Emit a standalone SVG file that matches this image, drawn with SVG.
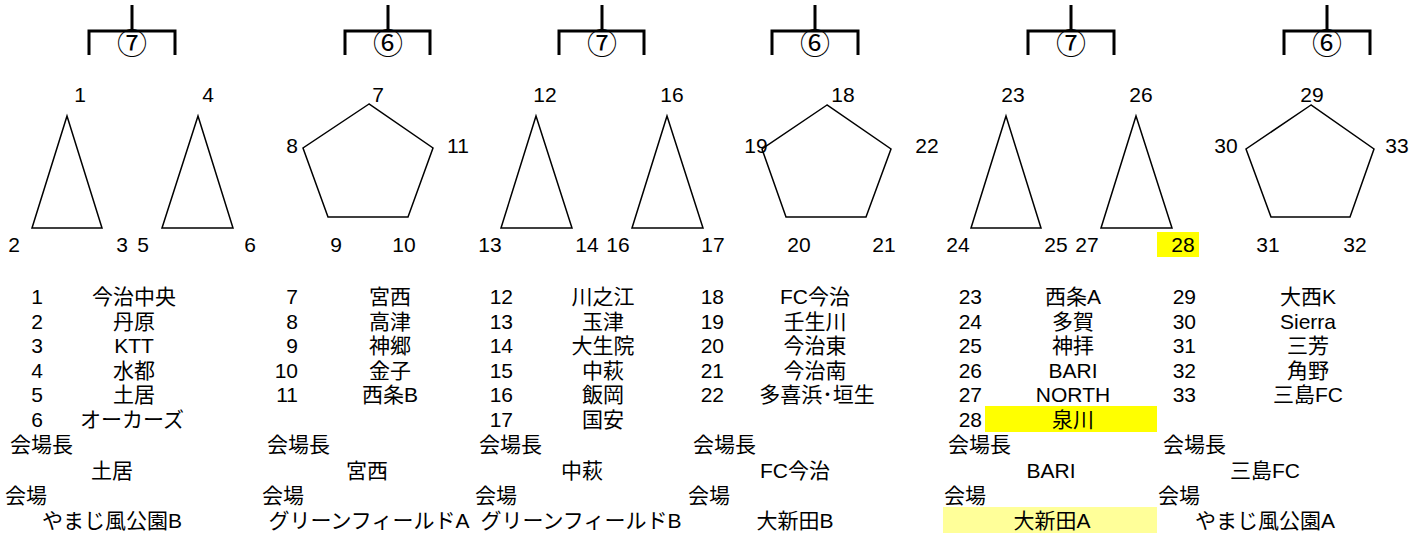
<svg xmlns="http://www.w3.org/2000/svg" width="1409" height="534" viewBox="0 0 1409 534">
<style>
  text { font-family: "Liberation Sans", "Noto Sans CJK JP", sans-serif; font-size: 21px; fill: #000; }
  .m { text-anchor: middle; }
  .e { text-anchor: end; }
  .c { font-family: "Noto Sans CJK JP", sans-serif; font-size: 30px; text-anchor: middle; }
  .shape { fill: #fff; stroke: #000; stroke-width: 1.5; stroke-linejoin: miter; }
  .br { fill: none; stroke: #000; stroke-width: 3; }
</style>
<rect width="1409" height="534" fill="#fff"/>

<!-- highlight backgrounds -->
<rect x="1157" y="232" width="42" height="25" fill="#FFFF00"/>
<rect x="985" y="406" width="172" height="26" fill="#FFFF00"/>
<rect x="943" y="507" width="214" height="26" fill="#FFFF99"/>

<g id="connectors">
  <g id="bracket1"><path class="br" d="M132 5V31M89 55V31H175V55"/><text class="c" x="132" y="54">⑦</text></g>
  <g id="bracket2"><path class="br" d="M388 5V31M345 55V31H430V55"/><text class="c" x="388" y="54">⑥</text></g>
  <g id="bracket3"><path class="br" d="M602 5V31M559 55V31H644V55"/><text class="c" x="602" y="54">⑦</text></g>
  <g id="bracket4"><path class="br" d="M815 5V31M772 55V31H858V55"/><text class="c" x="815" y="54">⑥</text></g>
  <g id="bracket5"><path class="br" d="M1071 5V31M1028 55V31H1114V55"/><text class="c" x="1071" y="54">⑦</text></g>
  <g id="bracket6"><path class="br" d="M1327 5V31M1284 55V31H1370V55"/><text class="c" x="1327" y="54">⑥</text></g>
</g>

<g id="tri1">
  <polygon class="shape" points="67,116 32,228 102,228"/>
  <text class="m" x="80" y="102">1</text>
  <text class="m" x="14" y="252">2</text>
  <text class="m" x="122" y="252">3</text>
</g>
<g id="tri2">
  <polygon class="shape" points="198,116 162,228 233,228"/>
  <text class="m" x="208" y="102">4</text>
  <text class="m" x="143" y="252">5</text>
  <text class="m" x="250" y="252">6</text>
</g>
<g id="pent1">
  <polygon class="shape" points="369,104 303,148 328,217 408,217 433,148"/>
  <text class="m" x="378" y="102">7</text>
  <text class="m" x="292" y="153">8</text>
  <text class="m" x="458" y="153">11</text>
  <text class="m" x="336" y="252">9</text>
  <text class="m" x="404" y="252">10</text>
</g>
<g id="tri3">
  <polygon class="shape" points="536,116 501,228 572,228"/>
  <text class="m" x="545" y="102">12</text>
  <text class="m" x="490" y="252">13</text>
  <text class="m" x="587" y="252">14</text>
</g>
<g id="tri4">
  <polygon class="shape" points="667,116 632,228 703,228"/>
  <text class="m" x="672" y="102">16</text>
  <text class="m" x="618" y="252">16</text>
  <text class="m" x="713" y="252">17</text>
</g>
<g id="pent2">
  <polygon class="shape" points="827,105 762,149 786,217 866,217 891,149"/>
  <text class="m" x="843" y="102">18</text>
  <text class="m" x="756" y="153">19</text>
  <text class="m" x="927" y="153">22</text>
  <text class="m" x="799" y="252">20</text>
  <text class="m" x="884" y="252">21</text>
</g>
<g id="tri5">
  <polygon class="shape" points="1006,116 971,228 1041,228"/>
  <text class="m" x="1013" y="102">23</text>
  <text class="m" x="958" y="252">24</text>
  <text class="m" x="1056" y="252">25</text>
</g>
<g id="tri6">
  <polygon class="shape" points="1136,116 1101,228 1172,228"/>
  <text class="m" x="1141" y="102">26</text>
  <text class="m" x="1087" y="252">27</text>
  <text class="m" x="1183" y="252">28</text>
</g>
<g id="pent3">
  <polygon class="shape" points="1311,105 1246,149 1271,217 1350,217 1374,149"/>
  <text class="m" x="1312" y="102">29</text>
  <text class="m" x="1226" y="153">30</text>
  <text class="m" x="1397" y="153">33</text>
  <text class="m" x="1268" y="252">31</text>
  <text class="m" x="1355" y="252">32</text>
</g>

<g id="list1">
  <text class="e" x="43" y="303.5">1</text><text class="m" x="134" y="303.5">今治中央</text>
  <text class="e" x="43" y="328.5">2</text><text class="m" x="134" y="328.5">丹原</text>
  <text class="e" x="43" y="352.5">3</text><text class="m" x="134" y="352.5">KTT</text>
  <text class="e" x="43" y="377.5">4</text><text class="m" x="134" y="377.5">水都</text>
  <text class="e" x="43" y="401.5">5</text><text class="m" x="134" y="401.5">土居</text>
  <text class="e" x="43" y="426.5">6</text><text class="m" x="132" y="426.5">オーカーズ</text>
  <text x="10" y="451.5">会場長</text>
  <text class="m" x="112" y="477.5">土居</text>
  <text x="5" y="502.5">会場</text>
  <text class="m" x="112" y="527.5">やまじ風公園B</text>
</g>
<g id="list2">
  <text class="e" x="298" y="303.5">7</text><text class="m" x="390" y="303.5">宮西</text>
  <text class="e" x="298" y="328.5">8</text><text class="m" x="390" y="328.5">高津</text>
  <text class="e" x="298" y="352.5">9</text><text class="m" x="390" y="352.5">神郷</text>
  <text class="e" x="298" y="377.5">10</text><text class="m" x="390" y="377.5">金子</text>
  <text class="e" x="298" y="401.5">11</text><text class="m" x="390" y="401.5">西条B</text>
  <text x="267" y="451.5">会場長</text>
  <text class="m" x="367" y="477.5">宮西</text>
  <text x="262" y="502.5">会場</text>
  <text class="m" x="369" y="527.5">グリーンフィールドA</text>
</g>
<g id="list3">
  <text class="e" x="513" y="303.5">12</text><text class="m" x="603" y="303.5">川之江</text>
  <text class="e" x="513" y="328.5">13</text><text class="m" x="603" y="328.5">玉津</text>
  <text class="e" x="513" y="352.5">14</text><text class="m" x="603" y="352.5">大生院</text>
  <text class="e" x="513" y="377.5">15</text><text class="m" x="603" y="377.5">中萩</text>
  <text class="e" x="513" y="401.5">16</text><text class="m" x="603" y="401.5">飯岡</text>
  <text class="e" x="513" y="426.5">17</text><text class="m" x="603" y="426.5">国安</text>
  <text x="479" y="451.5">会場長</text>
  <text class="m" x="582" y="477.5">中萩</text>
  <text x="475" y="502.5">会場</text>
  <text class="m" x="581" y="527.5">グリーンフィールドB</text>
</g>
<g id="list4">
  <text class="e" x="724" y="303.5">18</text><text class="m" x="815" y="303.5">FC今治</text>
  <text class="e" x="724" y="328.5">19</text><text class="m" x="815" y="328.5">壬生川</text>
  <text class="e" x="724" y="352.5">20</text><text class="m" x="815" y="352.5">今治東</text>
  <text class="e" x="724" y="377.5">21</text><text class="m" x="815" y="377.5">今治南</text>
  <text class="e" x="724" y="401.5">22</text><text class="m" x="817" y="401.5">多喜浜･垣生</text>
  <text x="693" y="451.5">会場長</text>
  <text class="m" x="795" y="477.5">FC今治</text>
  <text x="688" y="502.5">会場</text>
  <text class="m" x="795" y="527.5">大新田B</text>
</g>
<g id="list5">
  <text class="e" x="982" y="303.5">23</text><text class="m" x="1073" y="303.5">西条A</text>
  <text class="e" x="982" y="328.5">24</text><text class="m" x="1073" y="328.5">多賀</text>
  <text class="e" x="982" y="352.5">25</text><text class="m" x="1073" y="352.5">神拝</text>
  <text class="e" x="982" y="377.5">26</text><text class="m" x="1073" y="377.5">BARI</text>
  <text class="e" x="982" y="401.5">27</text><text class="m" x="1073" y="401.5">NORTH</text>
  <text class="e" x="982" y="426.5">28</text><text class="m" x="1073" y="426.5">泉川</text>
  <text x="948" y="451.5">会場長</text>
  <text class="m" x="1051" y="477.5">BARI</text>
  <text x="944" y="502.5">会場</text>
  <text class="m" x="1052" y="527.5">大新田A</text>
</g>
<g id="list6">
  <text class="e" x="1196" y="303.5">29</text><text class="m" x="1308" y="303.5">大西K</text>
  <text class="e" x="1196" y="328.5">30</text><text class="m" x="1308" y="328.5">Sierra</text>
  <text class="e" x="1196" y="352.5">31</text><text class="m" x="1308" y="352.5">三芳</text>
  <text class="e" x="1196" y="377.5">32</text><text class="m" x="1308" y="377.5">角野</text>
  <text class="e" x="1196" y="401.5">33</text><text class="m" x="1308" y="401.5">三島FC</text>
  <text x="1163" y="451.5">会場長</text>
  <text class="m" x="1265" y="477.5">三島FC</text>
  <text x="1158" y="502.5">会場</text>
  <text class="m" x="1265" y="527.5">やまじ風公園A</text>
</g>
</svg>
